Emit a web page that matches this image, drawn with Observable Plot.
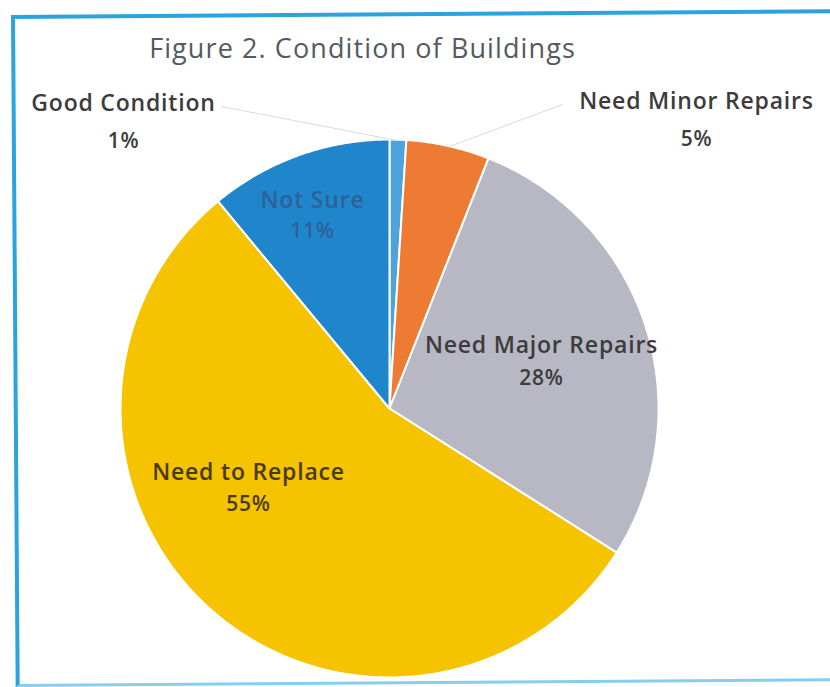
<!DOCTYPE html>
<html>
<head>
<meta charset="utf-8">
<script src="https://cdn.jsdelivr.net/npm/d3@7"></script>
<script src="https://cdn.jsdelivr.net/npm/@observablehq/plot@0.6"></script>
<style>
  html, body { margin: 0; padding: 0; background: #fff; width: 830px; height: 687px; overflow: hidden; }
  #clip { position: absolute; left: 0; top: 0; width: 830px; height: 687px; overflow: hidden; }
  #frame { position: absolute; left: 11px; top: 15px; width: 900px; height: 672px;
           border-left: 4px solid #2ba3df; border-top: 4px solid #2ba3df; border-bottom: 3px solid #86cdf0;
           border-right: none;
           transform: rotate(-0.4deg); transform-origin: 0 0; box-sizing: border-box; }
  #title { position: absolute; left: 0; width: 725px; top: 29px; text-align: center;
           font-family: "Open Sans", sans-serif; font-size: 27px; font-weight: 500; color: #555a60; letter-spacing: 1.1px; }
  #chart { position: absolute; left: 0; top: 0; }
  #chart svg text { letter-spacing: 0.8px; }
</style>
</head>
<body>
<div id="clip"><div id="frame"></div></div>
<div id="chart"></div>
<div id="title">Figure 2. Condition of Buildings</div>
<script>
// ---- data ----
const categories = ["Good Condition", "Need Minor Repairs", "Need Major Repairs", "Need to Replace", "Not Sure"];
const values = [1, 5, 28, 55, 11];

// ---- styles / layout (not data) ----
const colors = ["#4ea3dd", "#ee7b34", "#b7b8c4", "#f5c300", "#1f86cc"];
const textColors = ["#3c3c3c", "#3c3c3c", "#3c3c3c", "#4a3a10", "#2d6298"];
const W = 830, H = 687;
const center = {x: 389, y: 408}, R = 269;
// label anchor positions (name line, percent line below)
const labelPos = {
  "Good Condition":     {x: 123, y: 103, gap: 38},
  "Need Minor Repairs": {x: 696, y: 101, gap: 38},
  "Need Major Repairs": {x: 541, y: 345, gap: 33},
  "Need to Replace":    {x: 248, y: 472, gap: 32},
  "Not Sure":           {x: 312, y: 200, gap: 31}
};
const outside = new Set(["Good Condition", "Need Minor Repairs"]);

const table = categories.map((c, i) => ({category: c, value: values[i], color: colors[i], textColor: textColors[i]}));
const arcs = d3.pie().sort(null).value(d => d.value)(table);
const pt = (a, r) => ({x: center.x + r * Math.sin(a), y: center.y - r * Math.cos(a)});

const sliceMarks = arcs.map(a => {
  const n = Math.max(4, Math.ceil((a.endAngle - a.startAngle) / (Math.PI / 360)));
  const pts = [pt(0, 0)];
  for (let k = 0; k <= n; k++) pts.push(pt(a.startAngle + (a.endAngle - a.startAngle) * k / n, R));
  pts.push(pt(0, 0));
  return Plot.line(pts, {x: "x", y: "y", fill: a.data.color, stroke: "#ffffff", strokeWidth: 2, strokeLinejoin: "round"});
});

// leader lines for outside labels
const leaders = arcs.filter(a => outside.has(a.data.category)).map(a => {
  const mid = (a.startAngle + a.endAngle) / 2;
  const e = pt(mid, R);
  const lp = labelPos[a.data.category];
  const sx = a.data.category === "Good Condition" ? lp.x + 98 : lp.x - 134;
  return {x1: sx, y1: lp.y + 3, x2: e.x, y2: e.y + 1};
});

const labels = table.map(d => ({...d, ...labelPos[d.category], pct: d.value + "%"}));

const chart = Plot.plot({
  width: W, height: H,
  margin: 0,
  x: {domain: [0, W], range: [0, W], axis: null},
  y: {domain: [0, H], range: [0, H], axis: null},
  marks: [
    ...sliceMarks,
    Plot.link(leaders, {x1: "x1", y1: "y1", x2: "x2", y2: "y2", stroke: "#dadada", strokeWidth: 1}),
    Plot.text(labels, {x: "x", y: "y", text: "category", fill: "textColor",
      fontFamily: "Open Sans, sans-serif", fontSize: 23, fontWeight: 600}),
    Plot.text(labels, {x: "x", y: d => d.y + d.gap, text: "pct", fill: "textColor",
      fontFamily: "Open Sans, sans-serif", fontSize: 21, fontWeight: 600})
  ]
});
d3.select(chart).style("background", "transparent");
document.getElementById("chart").appendChild(chart);
</script>
</body>
</html>
